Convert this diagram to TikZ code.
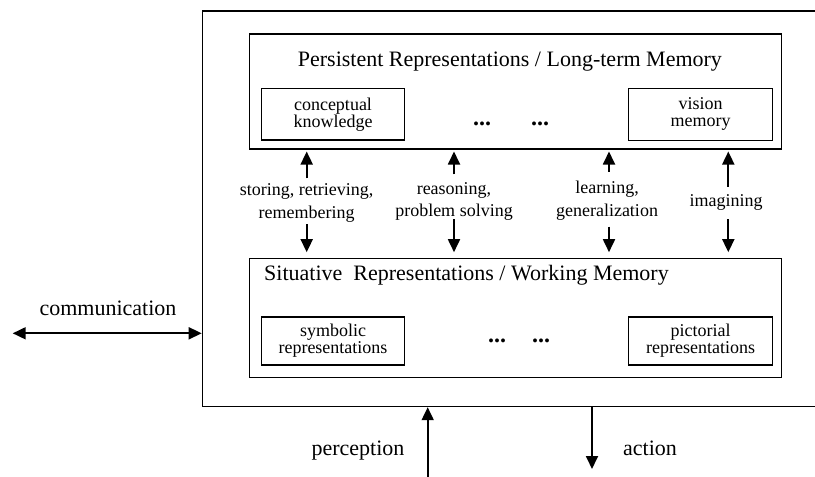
\documentclass[tikz,border=0pt]{standalone}
\usepackage{fontspec}
\setmainfont{Liberation Serif}
\usetikzlibrary{arrows.meta}
\begin{document}
\begin{tikzpicture}[x=1pt,y=-1pt,
  frame/.style={draw,line width=1.2pt,inner sep=0pt},
  box/.style={draw,line width=1.2pt,inner sep=0pt,align=center,font=\fontsize{18}{17}\selectfont},
  big/.style={font=\fontsize{22}{26}\selectfont,inner sep=0pt},
  lbl/.style={font=\fontsize{18}{22}\selectfont,inner sep=0pt,anchor=base},
  dotsx/.style={font=\fontsize{24}{26}\selectfont\bfseries,inner sep=0pt,anchor=base},
  arr/.style={line width=1.8pt,-{Triangle[length=13pt,width=12pt]}},
  darr/.style={line width=1.8pt,{Triangle[length=13pt,width=12pt]}-{Triangle[length=13pt,width=12pt]}}]
\useasboundingbox (0,0) rectangle (815,477);
% outer frame (right side lies beyond the page)
\node[frame,minimum width=700pt,minimum height=395.7pt,anchor=north west] (outer) at (201.7,10.3) {};
% long-term memory
\node[frame,minimum width=532pt,minimum height=115pt,anchor=north west] (ltm) at (249,33.3) {};
\node[big,anchor=base west] (ltmt) at (297.7,66.7) {Persistent Representations / Long-term Memory};
\node[box,minimum width=143.4pt,minimum height=51.7pt] (ck) at (333,114.2) {conceptual\\knowledge};
\node[box,minimum width=144pt,minimum height=52pt] (vm) at (700.7,114.3) {vision\\memory};
\node[dotsx] (d1) at (482,125) {...};
\node[dotsx] (d2) at (540,125) {...};
% working memory
\node[frame,minimum width=532pt,minimum height=119pt,anchor=north west] (wm) at (249,257.7) {};
\node[big,anchor=base west] (wmt) at (264,280) {Situative~ Representations / Working Memory};
\node[box,minimum width=143.4pt,minimum height=48pt] (sr) at (333,341) {symbolic\\representations};
\node[box,minimum width=144pt,minimum height=48pt] (pr) at (700.7,341) {pictorial\\representations};
\node[dotsx] (d3) at (497,342.5) {...};
\node[dotsx] (d4) at (541,342.5) {...};
% middle labels
\node[lbl] (l1a) at (306.7,195.7) {storing, retrieving,};
\node[lbl] (l1b) at (306.7,218) {remembering};
\node[lbl] (l2a) at (454,194) {reasoning,};
\node[lbl] (l2b) at (454,216.5) {problem solving};
\node[lbl] (l3a) at (607,193.5) {learning,};
\node[lbl] (l3b) at (607,216) {generalization};
\node[lbl] (l4) at (726,206.7) {imagining};
% vertical arrows
\coordinate (a1t) at (306.7,178.3);
\coordinate (a1b) at (306.7,224);
\coordinate (a2t) at (454,174.3);
\coordinate (a2b) at (454,219.3);
\coordinate (a3t) at (609,171.7);
\coordinate (a3b) at (609,226.7);
\coordinate (a4t) at (728.3,186.7);
\coordinate (a4b) at (728.3,219);
\foreach \n in {1,2,3,4}{
  \draw[arr,shorten >=2pt] (a\n t) -- (a\n t |- ltm.south);
  \draw[arr,shorten >=5.5pt] (a\n b) -- (a\n b |- wm.north);
}
% external
\node[big,anchor=base] (comm) at (108,315) {communication};
\coordinate (cl) at (12.7,333.3);
\draw[darr] (cl) -- (cl -| outer.west);
\node[big,anchor=base] (perc) at (358,455) {perception};
\coordinate (pb) at (427.7,477);
\draw[arr] (pb) -- (pb |- outer.south);
\node[big,anchor=base] (act) at (650,455) {action};
\coordinate (ae) at (592,469);
\draw[arr] (ae |- outer.south) -- (ae);
\end{tikzpicture}
\end{document}
